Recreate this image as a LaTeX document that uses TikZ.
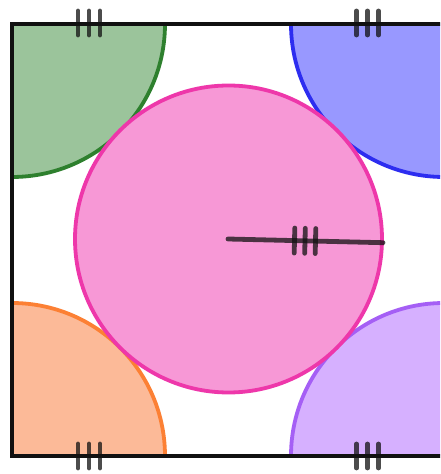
\documentclass[tikz,border=0pt]{standalone}
\usepackage{tikz}
\definecolor{greenfill}{RGB}{155,196,155}
\definecolor{greenline}{RGB}{46,128,46}
\definecolor{bluefill}{RGB}{152,152,255}
\definecolor{blueline}{RGB}{45,45,240}
\definecolor{pinkfill}{RGB}{247,152,214}
\definecolor{pinkline}{RGB}{238,55,170}
\definecolor{orangefill}{RGB}{252,186,152}
\definecolor{orangeline}{RGB}{252,128,52}
\definecolor{purplefill}{RGB}{214,176,255}
\definecolor{purpleline}{RGB}{165,95,245}
\definecolor{edgeblack}{RGB}{17,17,17}

\begin{document}
\begin{tikzpicture}[x=1pt, y=1pt,
  disc/.style={line width=3.8pt},
  hashmark/.style={line width=4.8pt, line cap=round, edgeblack, opacity=0.75}]
  \useasboundingbox (0,0) rectangle (440,474);
  \clip (0,0) rectangle (440,474);
  \fill[white] (-5,-5) rectangle (445,479);
  % corner quarter discs, kept inside the square
  \begin{scope}
    \clip (12,18) rectangle (444,450);
    \foreach \cx/\cy/\col in {12/450/green, 444/450/blue, 12/18/orange, 444/18/purple}
      \draw[disc, draw=\col line, fill=\col fill] (\cx,\cy) circle (153);
  \end{scope}
  % middle disc
  \draw[disc, draw=pinkline, fill=pinkfill] (228.5,235) circle (153.5);
  % square (its right side lies beyond the picture)
  \draw[line width=4.8pt, edgeblack] (450,450) -- (12,450) -- (12,18) -- (450,18);
  % radius
  \draw[line width=4.8pt, line cap=round, edgeblack, opacity=0.75] (228,235) -- (383,231.3);
  % equal marks on the sides
  \foreach \cx/\cy in {89/451, 367.5/451, 89/18, 367.5/18}
    \foreach \dx in {-11,0,11}
      \draw[hashmark] (\cx+\dx,\cy-12) -- (\cx+\dx,\cy+12);
  % equal marks on the radius
  \begin{scope}[shift={(305,233.2)}, rotate=-1.4]
    \foreach \dx in {-10.5,0,10.5}
      \draw[hashmark] (\dx,-12.5) -- (\dx,12.5);
  \end{scope}
\end{tikzpicture}
\end{document}
